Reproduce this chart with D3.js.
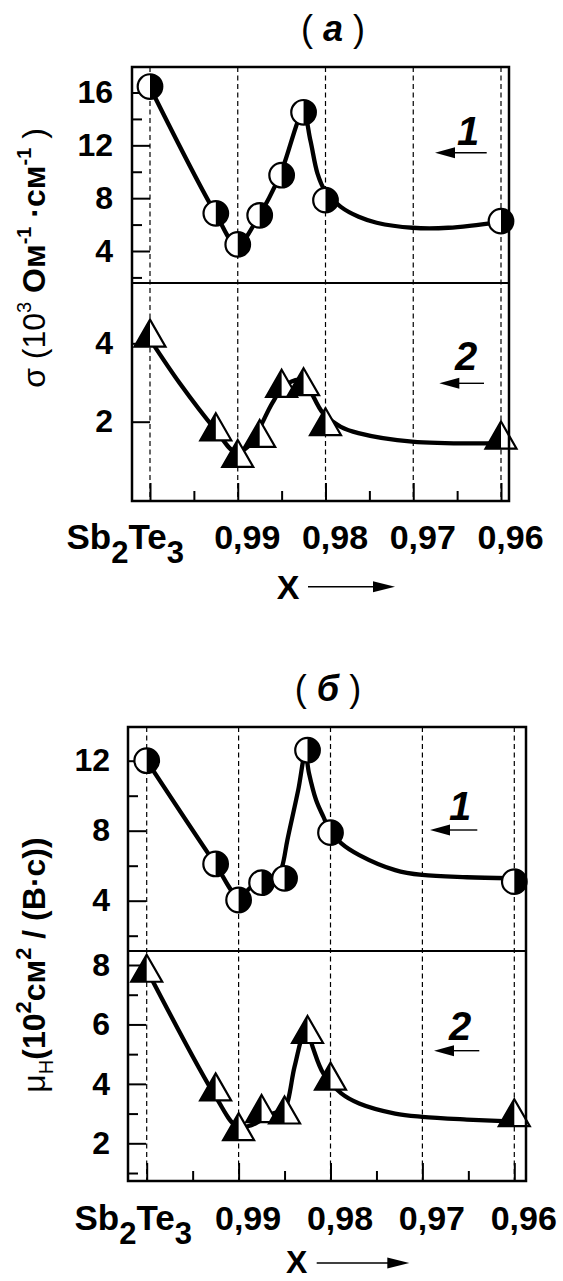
<!DOCTYPE html>
<html>
<head>
<meta charset="utf-8">
<script src="https://cdn.jsdelivr.net/npm/d3@7"></script>
<style>
  body { margin: 0; background: #fff; }
  text { font-family: "Liberation Sans", Arial, sans-serif; fill: #000; }
</style>
</head>
<body>
<script>
// composition x of the samples (same for all curves)
var compX = [1.0, 0.9925, 0.99, 0.9875, 0.985, 0.9825, 0.98, 0.96];

// (а) conductivity, 10^3 Ohm^-1 cm^-1
var sigma1 = [16.45, 6.85, 4.5, 6.7, 9.74, 14.5, 7.85, 6.26];
var sigma2 = [4.26, 1.87, 1.19, 1.70, 2.98, 3.02, 2.0, 1.66];
// (б) Hall mobility, 10^2 cm^2/(V s)
var mu1 = [12.0, 6.1, 4.04, 5.03, 5.28, 12.6, 7.89, 5.09];
var mu2 = [7.89, 3.9, 2.56, 3.17, 3.12, 5.83, 4.26, 3.03];

// the drawn guide curves
var sigma1CurveX = [1.0, 0.99253, 0.99009, 0.98764, 0.98519, 0.98253, 0.98173, 0.98091, 0.98009, 0.97825, 0.97622, 0.97417, 0.9701, 0.96601, 0.96];
var sigma1CurveY = [16.4, 6.85, 4.45, 6.59, 9.74, 14.5, 12.4, 9.86, 8.6, 7.34, 6.59, 6.14, 5.76, 5.76, 6.21];
var sigma2CurveX = [1.0, 0.99661, 0.99253, 0.99029, 0.98886, 0.98605, 0.98482, 0.98274, 0.98029, 0.97825, 0.97625, 0.97013, 0.96];
var sigma2CurveY = [4.1, 2.98, 1.79, 1.23, 1.36, 2.48, 2.89, 3.06, 2.22, 1.87, 1.71, 1.49, 1.45];
var mu1CurveX = [1.0, 0.99262, 0.99, 0.9886, 0.9875, 0.98586, 0.98527, 0.98469, 0.98351, 0.98274, 0.98234, 0.98157, 0.98078, 0.98008, 0.97882, 0.97687, 0.97296, 0.97003, 0.96516, 0.96];
var mu1CurveY = [12.0, 6.17, 4.23, 4.8, 5.09, 5.28, 5.94, 7.47, 10.33, 12.42, 11.28, 9.75, 8.8, 8.04, 7.28, 6.61, 5.75, 5.47, 5.34, 5.28];
var mu2CurveX = [1.0, 0.9925, 0.99016, 0.9886, 0.98625, 0.98508, 0.98391, 0.98293, 0.98254, 0.98195, 0.98078, 0.97883, 0.97688, 0.97297, 0.97003, 0.96516, 0.95891];
var mu2CurveY = [7.85, 3.57, 2.56, 2.61, 3.0, 3.12, 4.58, 5.7, 5.8, 5.25, 4.35, 3.68, 3.34, 3.0, 2.89, 2.8, 2.72];

var xTicks = [1.0, 0.99, 0.98, 0.97, 0.96];
var xMinor = [0.995, 0.985, 0.975, 0.965];
var xLabelVals = [0.99, 0.98, 0.97, 0.96];
var xLabels = ["0,99", "0,98", "0,97", "0,96"];

var svg = d3.select("body").append("svg")
  .attr("width", 563)
  .attr("height", 1281);

var defs = svg.append("defs");

function arrow(x1, x2, y, head) {
  var dir = x2 > x1 ? 1 : -1;
  svg.append("line")
    .attr("x1", x1).attr("x2", x2 - dir * head * 0.8)
    .attr("y1", y).attr("y2", y)
    .attr("stroke", "#000").attr("stroke-width", 1.4);
  svg.append("path")
    .attr("d", "M" + x2 + "," + y + "L" + (x2 - dir * head) + "," + (y - 5.5) +
      "L" + (x2 - dir * head) + "," + (y + 5.5) + "Z")
    .attr("fill", "#000");
}

function circleMark(g, cx, cy) {
  var r = 12.3;
  g.append("circle").attr("cx", cx).attr("cy", cy).attr("r", r)
    .attr("fill", "#fff").attr("stroke", "#000").attr("stroke-width", 2.2);
  g.append("path")
    .attr("d", "M" + cx + "," + (cy - r) + "A" + r + "," + r + " 0 0 1 " + cx + "," + (cy + r) + "Z")
    .attr("fill", "#000");
}

function triMark(g, cx, cy) {
  var w = 15.5, h = 13.5;
  g.append("path")
    .attr("d", "M" + cx + "," + (cy - h) + "L" + (cx + w) + "," + (cy + h) + "L" + (cx - w) + "," + (cy + h) + "Z")
    .attr("fill", "#fff").attr("stroke", "#000").attr("stroke-width", 2.2).attr("stroke-linejoin", "miter");
  g.append("path")
    .attr("d", "M" + cx + "," + (cy - h) + "L" + cx + "," + (cy + h) + "L" + (cx - w) + "," + (cy + h) + "Z")
    .attr("fill", "#000");
}

function drawPanel(p) {
  var g = svg.append("g");
  var x = d3.scaleLinear().domain([1.0, 0.96]).range([p.x0, p.x1]);

  defs.append("clipPath").attr("id", "clip" + p.id)
    .append("rect")
    .attr("x", p.left).attr("y", p.top)
    .attr("width", p.right - p.left).attr("height", p.bottom - p.top);

  // dashed verticals
  g.selectAll(".grid").data(xTicks).join("line")
    .attr("x1", d => x(d)).attr("x2", d => x(d))
    .attr("y1", p.top).attr("y2", p.bottom)
    .attr("stroke", "#000").attr("stroke-width", 1.2)
    .attr("stroke-dasharray", "5,3.5");

  // bottom ticks, pointing inward
  g.append("g").attr("transform", "translate(0," + p.bottom + ")")
    .call(d3.axisTop(x).tickValues(xTicks).tickSize(18).tickFormat(""))
    .call(a => a.select(".domain").remove())
    .call(a => a.selectAll("line").attr("stroke-width", 2));
  g.append("g").attr("transform", "translate(0," + p.bottom + ")")
    .call(d3.axisTop(x).tickValues(xMinor).tickSize(10).tickFormat(""))
    .call(a => a.select(".domain").remove())
    .call(a => a.selectAll("line").attr("stroke-width", 2));

  p.subs.forEach(function (s) {
    var y = d3.scaleLinear().domain(s.domain).range(s.range);

    g.append("g").attr("transform", "translate(" + p.left + ",0)")
      .call(d3.axisRight(y).tickValues(s.major).tickSize(18).tickFormat(""))
      .call(a => a.select(".domain").remove())
      .call(a => a.selectAll("line").attr("stroke-width", 2));
    if (s.minor.length) {
      g.append("g").attr("transform", "translate(" + p.left + ",0)")
        .call(d3.axisRight(y).tickValues(s.minor).tickSize(10).tickFormat(""))
        .call(a => a.select(".domain").remove())
        .call(a => a.selectAll("line").attr("stroke-width", 2));
    }
    g.append("g").attr("transform", "translate(" + p.left + ",0)")
      .call(d3.axisLeft(y).tickValues(s.major).tickSize(0).tickPadding(p.labelPad).tickFormat(d3.format("d")))
      .call(a => a.select(".domain").remove())
      .attr("font-size", 32).attr("font-family", "Liberation Sans, Arial, sans-serif")
      .attr("font-weight", "bold");

    var line = d3.line()
      .x(d => x(d[0])).y(d => y(d[1]))
      .curve(d3.curveCatmullRom.alpha(0.5));
    g.append("path")
      .datum(d3.zip(s.cx, s.cy))
      .attr("d", line)
      .attr("fill", "none").attr("stroke", "#000").attr("stroke-width", 4.3)
      .attr("stroke-linejoin", "round")
      .attr("clip-path", "url(#clip" + p.id + ")");

    var mg = g.append("g");
    compX.forEach(function (c, i) {
      if (s.mark === "circle") circleMark(mg, x(c), y(s.vals[i]));
      else triMark(mg, x(c), y(s.vals[i]));
    });
  });

  // frame and divider
  g.append("rect")
    .attr("x", p.left).attr("y", p.top)
    .attr("width", p.right - p.left).attr("height", p.bottom - p.top)
    .attr("fill", "none").attr("stroke", "#000").attr("stroke-width", 2.5);
  g.append("line")
    .attr("x1", p.left).attr("x2", p.right)
    .attr("y1", p.mid).attr("y2", p.mid)
    .attr("stroke", "#000").attr("stroke-width", 2);

  // x labels
  g.selectAll(".xl").data(xLabelVals).join("text")
    .attr("x", d => x(d) + 9.5).attr("y", p.labelY)
    .attr("text-anchor", "middle")
    .attr("font-size", 34).attr("font-weight", "bold")
    .text((d, i) => xLabels[i]);

  var sb = g.append("text")
    .attr("x", p.sbX).attr("y", p.labelY)
    .attr("text-anchor", "end")
    .attr("font-size", 35).attr("font-weight", "bold");
  sb.append("tspan").text("Sb");
  sb.append("tspan").attr("dy", 14).attr("font-size", 31).text("2");
  sb.append("tspan").attr("dy", -14).text("Te");
  sb.append("tspan").attr("dy", 14).attr("font-size", 31).text("3");

  // X arrow
  svg.append("text")
    .attr("x", p.xArrow[0] - 20).attr("y", p.xArrow[3])
    .attr("text-anchor", "middle")
    .attr("font-size", p.xSize).attr("font-weight", "bold")
    .text("X");
  arrow(p.xArrow[0], p.xArrow[1], p.xArrow[2], 22);

  // title
  var t = svg.append("text")
    .attr("x", p.titleX).attr("y", p.titleY)
    .attr("text-anchor", "middle")
    .attr("font-size", 36).attr("xml:space", "preserve");
  t.append("tspan").text("( ");
  t.append("tspan").attr("font-weight", "bold").attr("font-style", "italic").text(p.title);
  t.append("tspan").text(" )");

  // curve numbers with arrows
  p.legend.forEach(function (l) {
    svg.append("text")
      .attr("x", l.tx).attr("y", l.ty)
      .attr("text-anchor", "middle")
      .attr("font-size", 40).attr("font-weight", "bold").attr("font-style", "italic")
      .text(l.label);
    arrow(l.tail, l.tip, l.ay, 20);
  });
}

drawPanel({
  id: "a", title: "а", titleX: 333, titleY: 41,
  left: 132, right: 509, top: 67, mid: 283, bottom: 501,
  x0: 150, x1: 501, labelPad: 19, labelY: 549, sbX: 184,
  xArrow: [308, 395, 586.7, 599], xSize: 34,
  legend: [
    {label: "1", tx: 468, ty: 145, tail: 486.7, tip: 435, ay: 152.7},
    {label: "2", tx: 466, ty: 370, tail: 484, tip: 439.3, ay: 383.3}
  ],
  subs: [
    {domain: [4, 16], range: [251, 92.5], major: [4, 8, 12, 16], minor: [2, 6, 10, 14],
     vals: sigma1, cx: sigma1CurveX, cy: sigma1CurveY, mark: "circle"},
    {domain: [2, 4], range: [421.7, 343.3], major: [2, 4], minor: [],
     vals: sigma2, cx: sigma2CurveX, cy: sigma2CurveY, mark: "tri"}
  ]
});

drawPanel({
  id: "b", title: "б", titleX: 328, titleY: 701,
  left: 128, right: 526, top: 727, mid: 951, bottom: 1181,
  x0: 146.7, x1: 514.3, labelPad: 18, labelY: 1230, sbX: 192,
  xArrow: [316.7, 409.3, 1263, 1273], xSize: 32,
  legend: [
    {label: "1", tx: 460, ty: 820, tail: 477.3, tip: 430, ay: 830},
    {label: "2", tx: 460, ty: 1040, tail: 479.3, tip: 434, ay: 1050.7}
  ],
  subs: [
    {domain: [4, 12], range: [900.7, 760.7], major: [4, 8, 12], minor: [2, 6, 10],
     vals: mu1, cx: mu1CurveX, cy: mu1CurveY, mark: "circle"},
    {domain: [2, 8], range: [1143.3, 965], major: [2, 4, 6, 8], minor: [1, 3, 5, 7],
     vals: mu2, cx: mu2CurveX, cy: mu2CurveY, mark: "tri"}
  ]
});

// y axis titles
var ya = svg.append("text")
  .attr("transform", "translate(45,258) rotate(-90)")
  .attr("text-anchor", "middle")
  .attr("font-size", 32).attr("xml:space", "preserve");
ya.append("tspan").text("σ (10");
ya.append("tspan").attr("dy", -14).attr("font-size", 20).text("3");
ya.append("tspan").attr("dy", 14).attr("font-weight", "bold").text(" Ом");
ya.append("tspan").attr("dy", -14).attr("font-size", 20).attr("font-weight", "bold").text("-1");
ya.append("tspan").attr("dy", 14).attr("font-weight", "bold").text(" ·см");
ya.append("tspan").attr("dy", -14).attr("font-size", 20).attr("font-weight", "bold").text("-1");
ya.append("tspan").attr("dy", 14).text(" )");

var yb = svg.append("text")
  .attr("transform", "translate(45,965) rotate(-90)")
  .attr("text-anchor", "middle")
  .attr("font-size", 32).attr("xml:space", "preserve");
yb.append("tspan").text("μ");
yb.append("tspan").attr("dy", 8).attr("font-size", 20).text("Н");
yb.append("tspan").attr("dy", -8).attr("font-weight", "bold").text("(10");
yb.append("tspan").attr("dy", -14).attr("font-size", 22).attr("font-weight", "bold").text("2");
yb.append("tspan").attr("dy", 14).attr("font-weight", "bold").text("см");
yb.append("tspan").attr("dy", -14).attr("font-size", 22).attr("font-weight", "bold").text("2");
yb.append("tspan").attr("dy", 14).attr("font-weight", "bold").text(" / (В·с))");
</script>
</body>
</html>
